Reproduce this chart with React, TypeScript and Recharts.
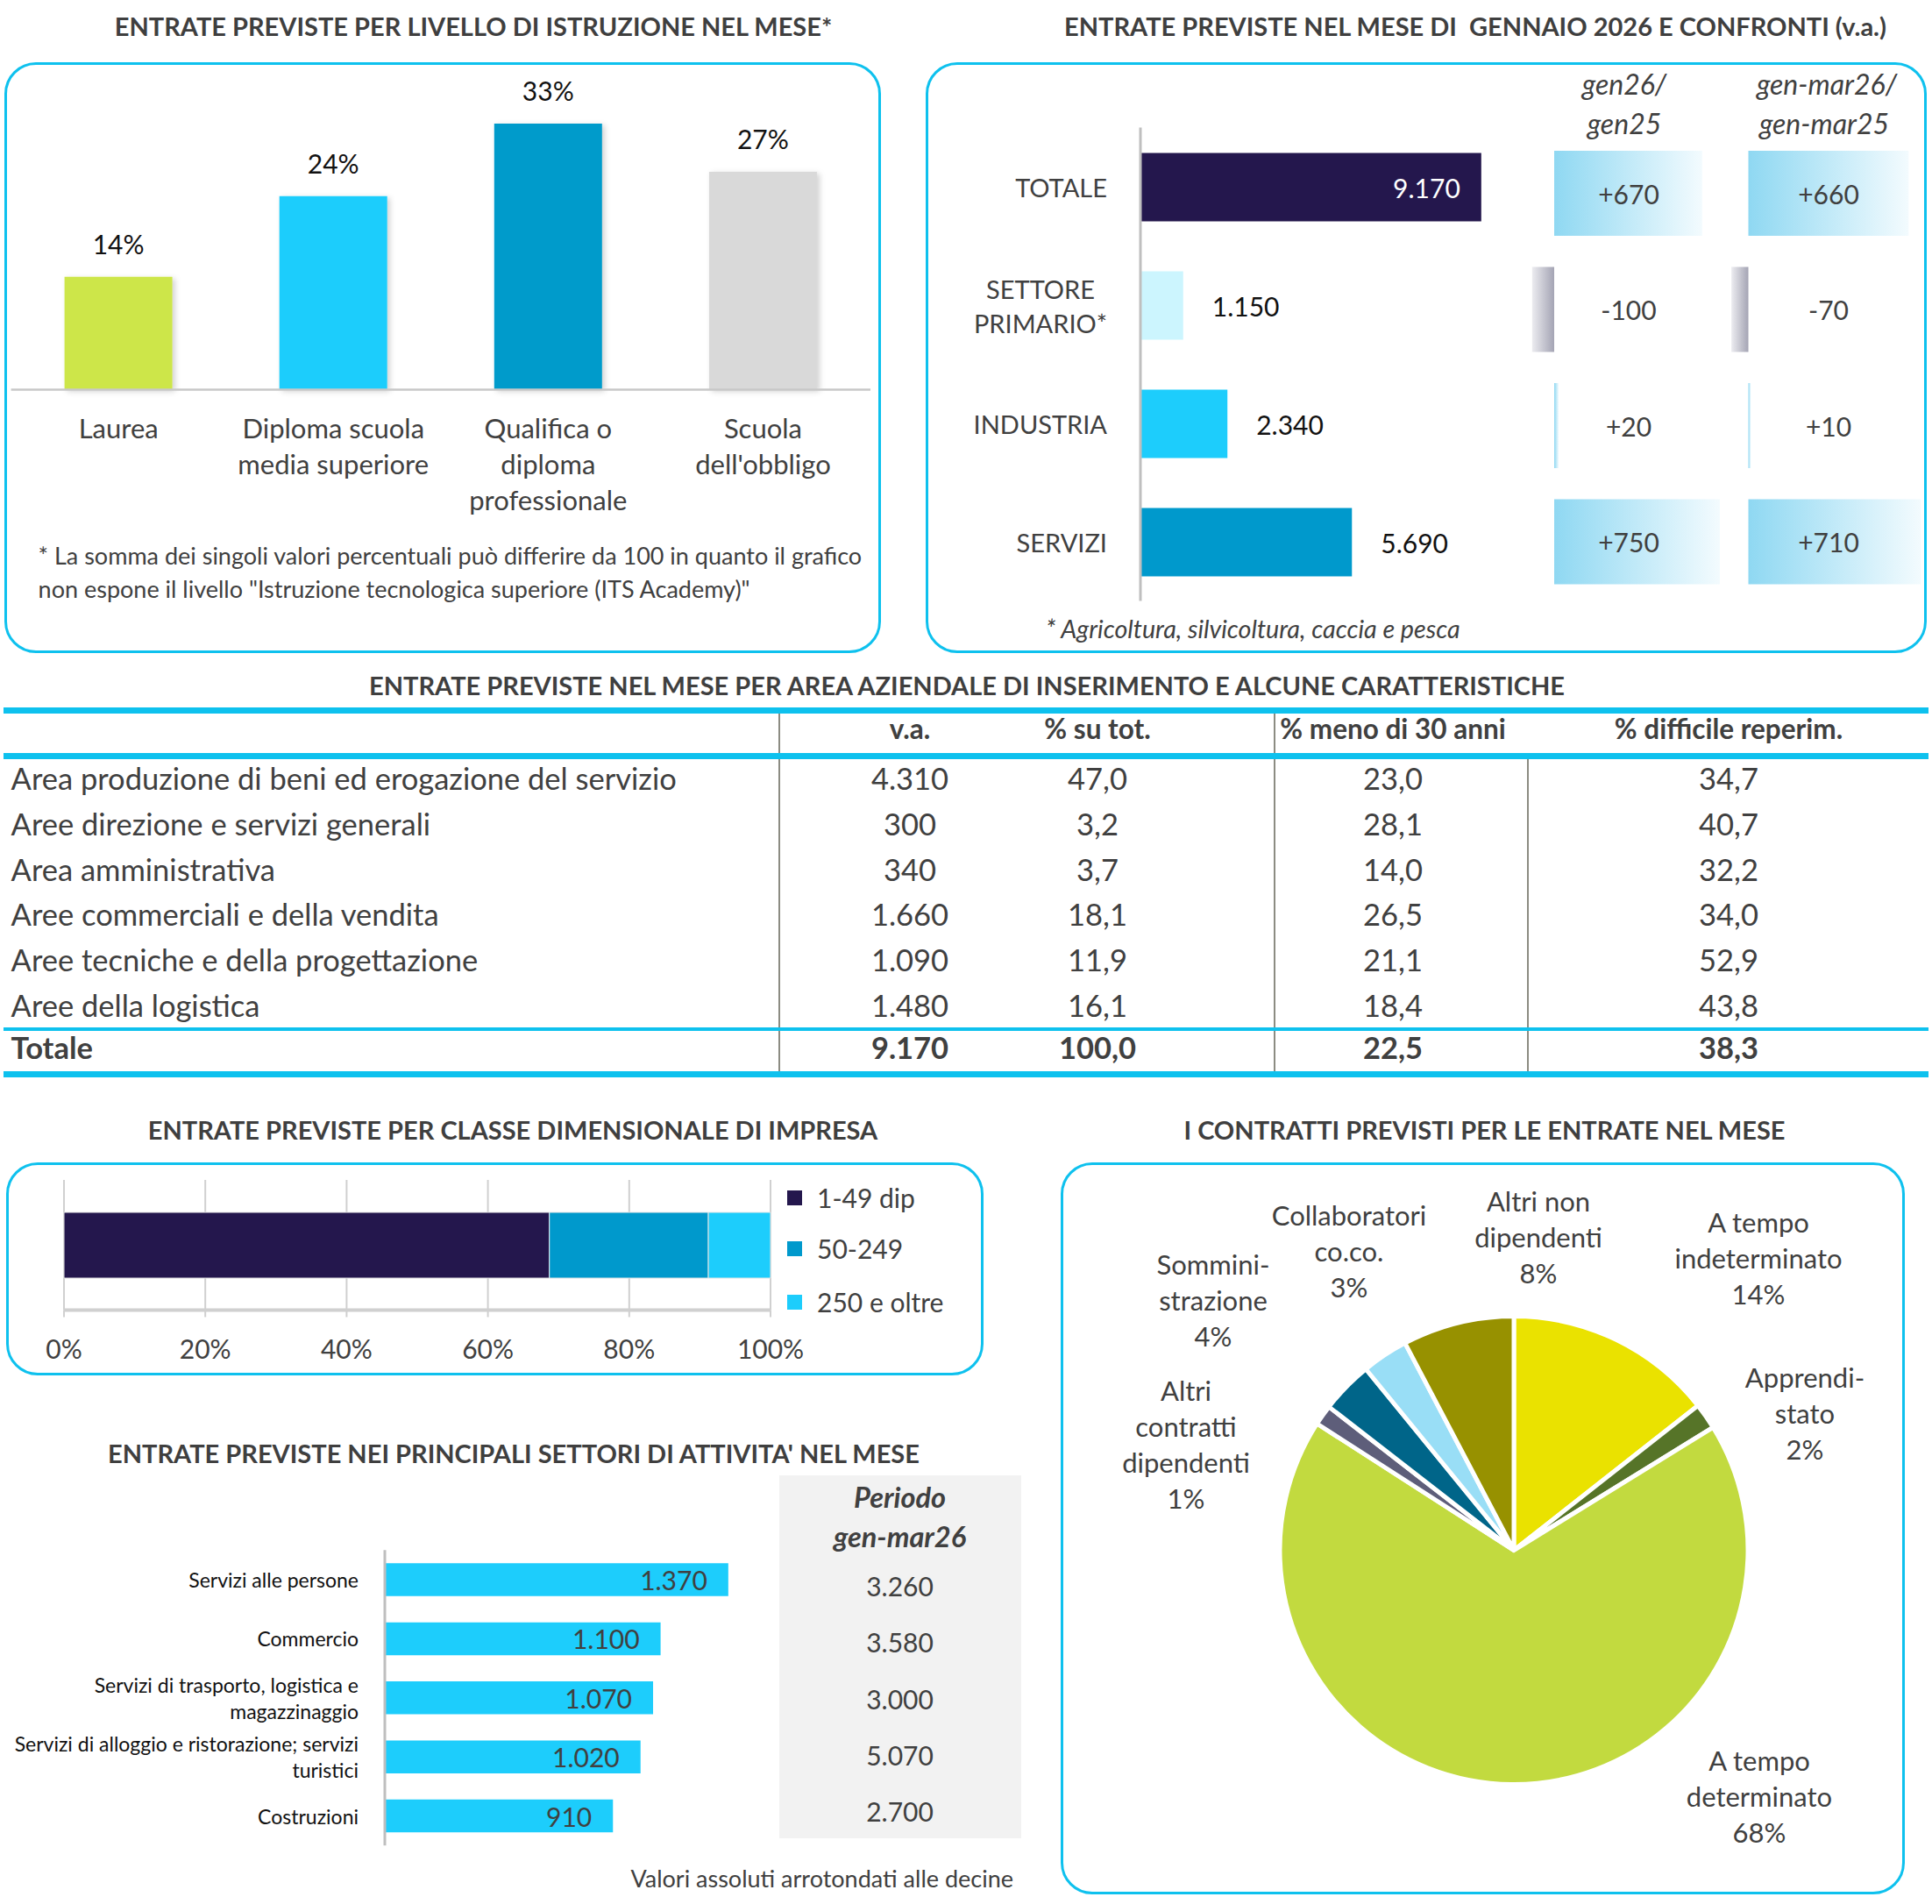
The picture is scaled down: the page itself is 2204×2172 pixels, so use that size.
import React from 'react';
import { BarChart, Bar, XAxis, YAxis, CartesianGrid, Cell, LabelList, PieChart, Pie } from 'recharts';

const FONT = 'Lato, "Noto Sans", sans-serif';
const INK = '#404040';
const CYAN = '#0EC1EE';

// livello di istruzione
const EDU_CATEGORIES = ['Laurea', 'Diploma scuola\nmedia superiore', 'Qualifica o\ndiploma\nprofessionale', "Scuola\ndell'obbligo"];
const EDU_VALUES = [14, 24, 33, 27];
const EDU_COLORS = ['#CDE64A', '#1DCDFC', '#009BCB', '#D9D9D9'];

// entrate gennaio 2026 e confronti
const MACRO_CATEGORIES = ['TOTALE', 'SETTORE\nPRIMARIO*', 'INDUSTRIA', 'SERVIZI'];
const MACRO_VALUES = [9170, 1150, 2340, 5690];
const MACRO_COLORS = ['#24174D', '#CCF5FE', '#1DCDFC', '#0099CC'];
const DIFF_GEN = [670, -100, 20, 750];
const DIFF_GEN_MAR = [660, -70, 10, 710];

// tabella aree aziendali
const AREA_NAMES = [
  'Area produzione di beni ed erogazione del servizio',
  'Aree direzione e servizi generali',
  'Area amministrativa',
  'Aree commerciali e della vendita',
  'Aree tecniche e della progettazione',
  'Aree della logistica',
];
const AREA_VA = [4310, 300, 340, 1660, 1090, 1480];
const AREA_SU_TOT = [47.0, 3.2, 3.7, 18.1, 11.9, 16.1];
const AREA_UNDER30 = [23.0, 28.1, 14.0, 26.5, 21.1, 18.4];
const AREA_DIFFICILE = [34.7, 40.7, 32.2, 34.0, 52.9, 43.8];
const AREA_TOTALE = [9170, 100.0, 22.5, 38.3];
const TABLE_HEADERS = ['v.a.', '% su tot.', '% meno di 30 anni', '% difficile reperim.'];

// classe dimensionale
const SIZE_CLASSES = ['1-49 dip', '50-249', '250 e oltre'];
const SIZE_SHARES = [68.7, 22.5, 8.8];
const SIZE_COLORS = ['#24174D', '#0099CC', '#1DCDFC'];
const SIZE_TICKS = [0, 20, 40, 60, 80, 100];

// settori di attivita
const ATT_CATEGORIES = [
  'Servizi alle persone',
  'Commercio',
  'Servizi di trasporto, logistica e\nmagazzinaggio',
  'Servizi di alloggio e ristorazione; servizi\nturistici',
  'Costruzioni',
];
const ATT_VALUES = [1370, 1100, 1070, 1020, 910];
const ATT_PERIODO = [3260, 3580, 3000, 5070, 2700];

// contratti
const CONTRACT_LABELS = [
  'A tempo\nindeterminato',
  'Apprendi-\nstato',
  'A tempo\ndeterminato',
  'Altri\ncontratti\ndipendenti',
  'Sommini-\nstrazione',
  'Collaboratori\nco.co.',
  'Altri non\ndipendenti',
];
const CONTRACT_SHARES = [14.4, 1.8, 67.9, 1.4, 3.6, 3.2, 7.7];
const CONTRACT_COLORS = ['#EAE200', '#567428', '#C2DA3F', '#5E5E7A', '#006589', '#99DEF6', '#979100'];
// label block centre, relative to pie centre
const CONTRACT_LABEL_POS = [[279, -334], [332, -157], [280, 280], [-374, -121], [-343, -286], [-188, -342], [28, -358]];

const fmtInt = (n: number) => String(Math.abs(n)).replace(/\B(?=(\d{3})+(?!\d))/g, '.');
const fmtSigned = (n: number) => (n > 0 ? '+' : n < 0 ? '-' : '') + fmtInt(n);
const fmtDec = (n: number) => n.toFixed(1).replace('.', ',');

type TxtProps = {
  x: number; y: number; children: React.ReactNode; size?: number; weight?: number;
  italic?: boolean; anchor?: 'start' | 'middle' | 'end'; color?: string;
};
const Txt = ({ x, y, children, size = 30, weight = 400, italic = false, anchor = 'middle', color = INK }: TxtProps) => (
  <div
    style={{
      position: 'absolute', left: x, top: y,
      transform: `translate(${anchor === 'middle' ? '-50%' : anchor === 'end' ? '-100%' : '0'}, -50%)`,
      fontSize: size, fontWeight: weight, fontStyle: italic ? 'italic' : 'normal', color,
      whiteSpace: 'pre', lineHeight: 1, fontFamily: FONT,
    }}
  >
    {children}
  </div>
);

const Title = ({ x, y, children }: { x: number; y: number; children: React.ReactNode }) => (
  <Txt x={x} y={y} size={29} weight={700} color="#3F3F3F">{children}</Txt>
);

const Box = ({ left, top, width, height }: { left: number; top: number; width: number; height: number }) => (
  <div
    style={{
      position: 'absolute', left, top, width, height, boxSizing: 'border-box',
      border: `3px solid ${CYAN}`, borderRadius: 36,
    }}
  />
);

// ---------- chart 1
const EduTick = (p: any) => {
  const { x, y, payload } = p;
  const lines = String(payload.value).split('\n');
  return (
    <text x={x} y={y} textAnchor="middle" dominantBaseline="central" fontSize={31} fill={INK} fontFamily={FONT}>
      {lines.map((l, i) => (
        <tspan key={i} x={x} dy={i === 0 ? 43.5 : 41}>{l}</tspan>
      ))}
    </text>
  );
};

const EduLabel = (p: any) => {
  const { x, y, width, value } = p;
  return (
    <text x={x + width / 2} y={y - 38} textAnchor="middle" dominantBaseline="central" fontSize={30} fill="#111" fontFamily={FONT}>
      {value}%
    </text>
  );
};

function EduChart() {
  const data = EDU_CATEGORIES.map((name, i) => ({ name, value: EDU_VALUES[i] }));
  return (
    <div style={{ position: 'absolute', left: 0, top: 0 }}>
      <BarChart width={1010} height={600} data={data} margin={{ top: 122.5, right: 17, bottom: 5.5, left: 12.6 }}>
        <defs>
          <filter id="eduShadow" x="-10%" y="-5%" width="130%" height="115%">
            <feDropShadow dx="3" dy="2" stdDeviation="3" floodColor="#000" floodOpacity="0.18" />
          </filter>
        </defs>
        <XAxis
          dataKey="name" interval={0} height={150} tickLine={false} tickSize={0} tickMargin={0}
          axisLine={{ stroke: '#C8C8C8', strokeWidth: 2.5 }} tick={EduTick}
        />
        <YAxis hide width={0} domain={[0, 35]} />
        <Bar dataKey="value" barSize={123} isAnimationActive={false} filter="url(#eduShadow)">
          {data.map((d, i) => <Cell key={d.name} fill={EDU_COLORS[i]} />)}
          <LabelList dataKey="value" content={EduLabel} />
        </Bar>
      </BarChart>
    </div>
  );
}

// ---------- chart 2
const MacroTick = (p: any) => {
  const { x, y, payload } = p;
  const lines = String(payload.value).split('\n');
  const multi = lines.length > 1;
  const tx = multi ? x - 76 : x;
  return (
    <text x={tx} y={y} textAnchor={multi ? 'middle' : 'end'} dominantBaseline="central" fontSize={29} fill={INK} fontFamily={FONT}>
      {lines.map((l, i) => (
        <tspan key={i} x={tx} dy={i === 0 ? -(lines.length - 1) * 19.5 : 39}>{l}</tspan>
      ))}
    </text>
  );
};

const MacroLabel = (p: any) => {
  const { x, y, width, height, value } = p;
  const inside = value === Math.max(...MACRO_VALUES);
  return (
    <text
      x={inside ? x + width - 24 : x + width + 33} y={y + height / 2}
      textAnchor={inside ? 'end' : 'start'} dominantBaseline="central"
      fill={inside ? '#fff' : '#111'} fontSize={30} fontFamily={FONT}
    >
      {fmtInt(value)}
    </text>
  );
};

function MacroChart() {
  const data = MACRO_CATEGORIES.map((name, i) => ({ name, value: MACRO_VALUES[i] }));
  return (
    <div style={{ position: 'absolute', left: 1060, top: 0 }}>
      <BarChart layout="vertical" width={800} height={700} data={data} margin={{ top: 145.5, right: 135, bottom: 14.5, left: 0 }}>
        <XAxis type="number" hide domain={[0, 10000]} />
        <YAxis
          type="category" dataKey="name" width={241} interval={0} tickLine={false} tickSize={0} tickMargin={38}
          axisLine={{ stroke: '#BFBFBF', strokeWidth: 3 }} tick={MacroTick}
        />
        <Bar dataKey="value" barSize={78} isAnimationActive={false}>
          {data.map((d, i) => <Cell key={d.name} fill={MACRO_COLORS[i]} />)}
          <LabelList dataKey="value" content={MacroLabel} />
        </Bar>
      </BarChart>
    </div>
  );
}

type DiffProps = {
  id: string; values: number[]; left: number; width: number;
  marginLeft: number; marginRight: number; domain: [number, number]; labelX: number;
};
function DiffChart({ id, values, left, width, marginLeft, marginRight, domain, labelX }: DiffProps) {
  const data = MACRO_CATEGORIES.map((name, i) => ({ name, value: values[i] }));
  const label = (p: any) => (
    <text x={labelX} y={p.y + p.height / 2} textAnchor="middle" dominantBaseline="central" fill={INK} fontSize={30} fontFamily={FONT}>
      {fmtSigned(p.value)}
    </text>
  );
  return (
    <div style={{ position: 'absolute', left, top: 0 }}>
      <BarChart layout="vertical" width={width} height={700} data={data} margin={{ top: 154, right: marginRight, bottom: 16, left: marginLeft }}>
        <defs>
          <linearGradient id={`${id}Pos`} x1="0" y1="0" x2="1" y2="0">
            <stop offset="0%" stopColor="#8FD8F2" />
            <stop offset="100%" stopColor="#F3FBFE" />
          </linearGradient>
          <linearGradient id={`${id}Neg`} x1="0" y1="0" x2="1" y2="0">
            <stop offset="0%" stopColor="#ECECF0" />
            <stop offset="100%" stopColor="#A4A4B4" />
          </linearGradient>
        </defs>
        <XAxis type="number" hide domain={domain} />
        <YAxis type="category" dataKey="name" hide />
        <Bar dataKey="value" barSize={97} isAnimationActive={false}>
          {data.map((d) => <Cell key={d.name} fill={d.value >= 0 ? `url(#${id}Pos)` : `url(#${id}Neg)`} />)}
          <LabelList dataKey="value" content={label} />
        </Bar>
      </BarChart>
    </div>
  );
}

// ---------- table
const COL_X = [1038, 1252, 1589, 1972];
const ROW_FONT = 34.5;
function AreaTable() {
  const rowY = (i: number) => 888 + i * 51.8;
  const hbar = (top: number, h: number) => (
    <div style={{ position: 'absolute', left: 4, top, width: 2196, height: h, background: CYAN }} />
  );
  const vline = (left: number, top: number, bottom: number) => (
    <div style={{ position: 'absolute', left, top, width: 1.5, height: bottom - top, background: '#8C8C82' }} />
  );
  return (
    <>
      {vline(888, 814, 1222)}
      {vline(1453, 814, 1222)}
      {vline(1742, 866, 1222)}
      {hbar(807, 7)}
      {hbar(859, 7)}
      {hbar(1172, 4)}
      {hbar(1222, 7)}
      {TABLE_HEADERS.map((h, j) => (
        <Txt key={h} x={COL_X[j]} y={832} size={31.5} weight={700}>{h}</Txt>
      ))}
      {AREA_NAMES.map((name, i) => (
        <React.Fragment key={name}>
          <Txt x={12.6} y={rowY(i)} anchor="start" size={ROW_FONT}>{name}</Txt>
          <Txt x={COL_X[0]} y={rowY(i)} size={ROW_FONT}>{fmtInt(AREA_VA[i])}</Txt>
          <Txt x={COL_X[1]} y={rowY(i)} size={ROW_FONT}>{fmtDec(AREA_SU_TOT[i])}</Txt>
          <Txt x={COL_X[2]} y={rowY(i)} size={ROW_FONT}>{fmtDec(AREA_UNDER30[i])}</Txt>
          <Txt x={COL_X[3]} y={rowY(i)} size={ROW_FONT}>{fmtDec(AREA_DIFFICILE[i])}</Txt>
        </React.Fragment>
      ))}
      <Txt x={12.6} y={1195} anchor="start" size={ROW_FONT} weight={700}>Totale</Txt>
      {AREA_TOTALE.map((v, j) => (
        <Txt key={j} x={COL_X[j]} y={1195} size={ROW_FONT} weight={700}>{j === 0 ? fmtInt(v) : fmtDec(v)}</Txt>
      ))}
    </>
  );
}

// ---------- size class
function SizeChart() {
  const row: Record<string, number | string> = { name: 'imprese' };
  SIZE_CLASSES.forEach((c, i) => { row[c] = SIZE_SHARES[i]; });
  return (
    <div style={{ position: 'absolute', left: 0, top: 1330 }}>
      <BarChart layout="vertical" width={1120} height={230} data={[row]} margin={{ top: 16, right: 241, bottom: 5.5, left: 73 }}>
        <CartesianGrid horizontal={false} stroke="#D0D0D0" strokeWidth={2} />
        <XAxis
          type="number" domain={[0, 100]} ticks={SIZE_TICKS} interval={0} height={60}
          tickFormatter={(v: number) => `${v}%`} tickSize={8} tickMargin={26}
          axisLine={{ stroke: '#D0D0D0', strokeWidth: 4 }} tickLine={{ stroke: '#D0D0D0', strokeWidth: 2 }}
          tick={{ fill: INK, fontSize: 30, fontFamily: FONT }}
        />
        <YAxis type="category" dataKey="name" hide />
        {SIZE_CLASSES.map((c, i) => (
          <Bar key={c} dataKey={c} stackId="s" fill={SIZE_COLORS[i]} barSize={75} stroke="#E6E6E6" strokeWidth={1} isAnimationActive={false} />
        ))}
      </BarChart>
      {SIZE_CLASSES.map((c, i) => (
        <React.Fragment key={c}>
          <div style={{ position: 'absolute', left: 898, top: [36, 94, 155][i] - 8.5, width: 17, height: 17, background: SIZE_COLORS[i] }} />
          <Txt x={932} y={[36, 94, 155][i]} anchor="start" size={30}>{c}</Txt>
        </React.Fragment>
      ))}
    </div>
  );
}

// ---------- settori
const AttTick = (p: any) => {
  const { x, y, payload } = p;
  const lines = String(payload.value).split('\n');
  return (
    <text x={x} y={y} textAnchor="end" dominantBaseline="central" fontSize={23} fill="#111" fontFamily={FONT}>
      {lines.map((l, i) => (
        <tspan key={i} x={x} dy={i === 0 ? -(lines.length - 1) * 15 : 30}>{l}</tspan>
      ))}
    </text>
  );
};

const AttLabel = (p: any) => {
  const { x, y, width, height, value } = p;
  return (
    <text x={x + width - 24} y={y + height / 2} textAnchor="end" dominantBaseline="central" fill={INK} fontSize={30} fontFamily={FONT}>
      {fmtInt(value)}
    </text>
  );
};

function AttChart() {
  const data = ATT_CATEGORIES.map((name, i) => ({ name, value: ATT_VALUES[i] }));
  return (
    <div style={{ position: 'absolute', left: 0, top: 1700 }}>
      <BarChart layout="vertical" width={900} height={420} data={data} margin={{ top: 68.3, right: 3.4, bottom: 14.8, left: 0 }}>
        <XAxis type="number" hide domain={[0, 1600]} />
        <YAxis
          type="category" dataKey="name" width={439} interval={0} tickLine={false} tickSize={0} tickMargin={30}
          axisLine={{ stroke: '#BFBFBF', strokeWidth: 3 }} tick={AttTick}
        />
        <Bar dataKey="value" fill="#1DCDFC" barSize={37.5} isAnimationActive={false}>
          <LabelList dataKey="value" content={AttLabel} />
        </Bar>
      </BarChart>
    </div>
  );
}

function PeriodoColumn() {
  return (
    <>
      <div style={{ position: 'absolute', left: 888.5, top: 1683, width: 276, height: 413.6, background: '#F2F2F2' }} />
      <Txt x={1026.5} y={1708} size={32.5} weight={700} italic>Periodo</Txt>
      <Txt x={1026.5} y={1753} size={32.5} weight={700} italic>gen-mar26</Txt>
      {ATT_PERIODO.map((v, i) => (
        <Txt key={i} x={1026.5} y={1809 + i * 64.25} size={30}>{fmtInt(v)}</Txt>
      ))}
    </>
  );
}

// ---------- contratti
const PieLabel = (p: any) => {
  const { cx, cy, index, value } = p;
  const [dx, dy] = CONTRACT_LABEL_POS[index];
  const lines = [...CONTRACT_LABELS[index].split('\n'), `${Math.round(value)}%`];
  const x = cx + dx;
  return (
    <text x={x} y={cy + dy} textAnchor="middle" dominantBaseline="central" fontSize={31} fill={INK} fontFamily={FONT}>
      {lines.map((l, i) => (
        <tspan key={i} x={x} dy={i === 0 ? -(lines.length - 1) * 20.5 : 41}>{l}</tspan>
      ))}
    </text>
  );
};

function ContractPie() {
  const data = CONTRACT_LABELS.map((name, i) => ({ name, value: CONTRACT_SHARES[i] }));
  return (
    <div style={{ position: 'absolute', left: 1212, top: 1330 }}>
      <PieChart width={960} height={830} margin={{ top: 0, right: 0, bottom: 0, left: 0 }}>
        <Pie
          data={data} dataKey="value" nameKey="name" cx={515} cy={438.5} outerRadius={267}
          startAngle={90} endAngle={-270} stroke="#fff" strokeWidth={5}
          label={PieLabel} labelLine={false} isAnimationActive={false}
        >
          {data.map((d, i) => <Cell key={d.name} fill={CONTRACT_COLORS[i]} />)}
        </Pie>
      </PieChart>
    </div>
  );
}

export default function App() {
  return (
    <div style={{ position: 'absolute', left: 0, top: 0, width: 2204, height: 2172, background: '#fff', fontFamily: FONT, overflow: 'hidden' }}>
      <Title x={540} y={29}>ENTRATE PREVISTE PER LIVELLO DI ISTRUZIONE NEL MESE*</Title>
      <Box left={5} top={71} width={1000} height={674} />
      <EduChart />
      <Txt x={43.6} y={632.5} anchor="start" size={27}>* La somma dei singoli valori percentuali può differire da 100 in quanto il grafico</Txt>
      <Txt x={43.6} y={671} anchor="start" size={27}>non espone il livello "Istruzione tecnologica superiore (ITS Academy)"</Txt>

      <Title x={1683} y={29}>ENTRATE PREVISTE NEL MESE DI  GENNAIO 2026 E CONFRONTI (v.a.)</Title>
      <Box left={1056} top={71} width={1142} height={674} />
      <MacroChart />
      <DiffChart id="dg" values={DIFF_GEN} left={1700} width={300} marginLeft={22.6} marginRight={25.4} domain={[-200, 800]} labelX={158} />
      <DiffChart id="dgm" values={DIFF_GEN_MAR} left={1940} width={300} marginLeft={26.8} marginRight={37.7} domain={[-100, 750]} labelX={146} />
      <Txt x={1853} y={95.5} size={32} italic>gen26/</Txt>
      <Txt x={1853} y={140.6} size={32} italic>gen25</Txt>
      <Txt x={2084} y={95.5} size={32} italic>gen-mar26/</Txt>
      <Txt x={2081} y={140.6} size={32} italic>gen-mar25</Txt>
      <Txt x={1193} y={717} anchor="start" size={28.7} italic>* Agricoltura, silvicoltura, caccia e pesca</Txt>

      <Title x={1103} y={781}>ENTRATE PREVISTE NEL MESE PER AREA AZIENDALE DI INSERIMENTO E ALCUNE CARATTERISTICHE</Title>
      <AreaTable />

      <Title x={585} y={1287.5}>ENTRATE PREVISTE PER CLASSE DIMENSIONALE DI IMPRESA</Title>
      <Box left={7} top={1326} width={1115} height={243} />
      <SizeChart />

      <Title x={586} y={1657}>ENTRATE PREVISTE NEI PRINCIPALI SETTORI DI ATTIVITA' NEL MESE</Title>
      <PeriodoColumn />
      <AttChart />
      <Txt x={1156} y={2141.6} anchor="end" size={27}>Valori assoluti arrotondati alle decine</Txt>

      <Title x={1693.5} y={1288}>I CONTRATTI PREVISTI PER LE ENTRATE NEL MESE</Title>
      <Box left={1210} top={1326} width={963} height={835} />
      <ContractPie />
    </div>
  );
}
